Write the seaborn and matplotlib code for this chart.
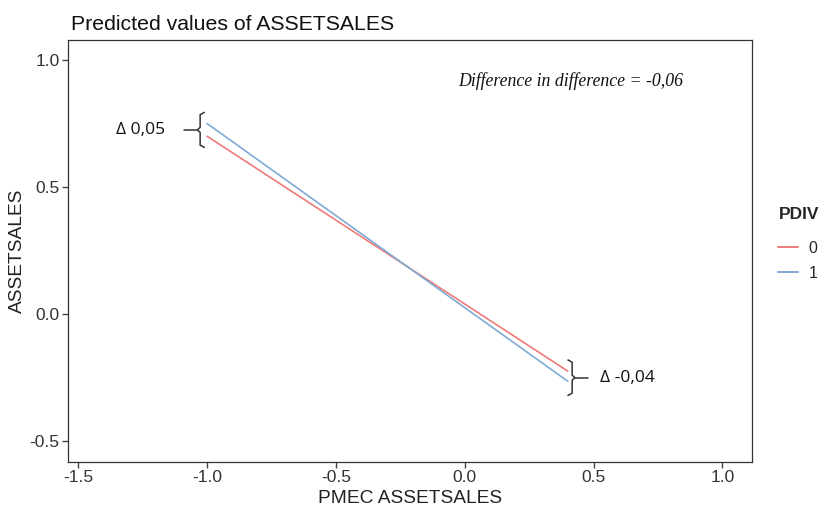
import matplotlib
matplotlib.use("Agg")
import matplotlib.pyplot as plt
import seaborn as sns
import pandas as pd
import numpy as np
from matplotlib.lines import Line2D

# data
pmec = [-1.0, 0.4]
pred_0 = [0.70, -0.225]
pred_1 = [0.75, -0.265]
groups = ["0", "1"]
x_ticks = [-1.5, -1.0, -0.5, 0.0, 0.5, 1.0]
y_ticks = [-0.5, 0.0, 0.5, 1.0]
diff_left = "Δ 0,05"
diff_right = "Δ -0,04"
did_text = "Difference in difference = -0,06"

df = pd.DataFrame({
    "PMEC ASSETSALES": pmec + pmec,
    "ASSETSALES": pred_0 + pred_1,
    "PDIV": [groups[0]] * 2 + [groups[1]] * 2,
})

sns.set_theme(style="white")
plt.rcParams["font.family"] = ["Liberation Sans", "DejaVu Sans"]

fig = plt.figure(figsize=(8.22, 5.15), dpi=100)
ax = fig.add_axes([0.0827, 0.1029, 0.8321, 0.8194])
palette = {"0": "#F07A78", "1": "#7FAAD6"}
sns.lineplot(data=df, x="PMEC ASSETSALES", y="ASSETSALES", hue="PDIV",
             palette=palette, ax=ax, linewidth=1.2, legend=False)

ax.set_xlim(-1.54, 1.115)
ax.set_ylim(-0.583, 1.079)
ax.set_xticks(x_ticks)
ax.set_xticklabels([f"{v:.1f}" for v in x_ticks])
ax.set_yticks(y_ticks)
ax.set_yticklabels([f"{v:.1f}" for v in y_ticks])
ax.tick_params(axis="both", which="both", length=4, width=1, color="#444444",
               labelsize=12.5, labelcolor="#333333", pad=2, bottom=True, left=True)
for s in ax.spines.values():
    s.set_color("#333333")
    s.set_linewidth(0.9)
ax.set_xlabel("PMEC ASSETSALES", fontsize=13.8, color="#222222", labelpad=3)
ax.set_ylabel("ASSETSALES", fontsize=13.8, color="#222222", labelpad=3)
ax.set_title("Predicted values of ASSETSALES", fontsize=15.3, loc="left",
             x=0.005, pad=7, color="#111111")

# braces
def brace(ax, x, lo, hi, side, tick_len):
    mid = (lo + hi) / 2
    d = 0.018 * side  # hook direction (opens towards lines)
    c = 0.010
    xs = [x + d, x, x, x - d * 0.6, x, x, x + d]
    ys = [hi, hi - c, mid + c, mid, mid - c, lo + c, lo]
    ax.plot(xs, ys, color="#333333", lw=1.1, solid_capstyle="butt")
    ax.plot([x - d * 0.6, x - d * 0.6 - tick_len * side], [mid, mid],
            color="#333333", lw=1.1)
    return mid

l0, l1 = pred_0[0], pred_1[0]
r0, r1 = pred_0[1], pred_1[1]
pad = 0.045
mid_l = brace(ax, pmec[0] - 0.027, min(l0, l1) - pad, max(l0, l1) + pad, 1, 0.05)
mid_r = brace(ax, pmec[1] + 0.017, min(r0, r1) - pad - 0.012, max(r0, r1) + pad + 0.0, -1, 0.05)

ax.text(-1.162, mid_l, diff_left, ha="right", va="center", fontsize=12.5,
        family=["Open Sans", "DejaVu Sans"], color="#111111")
ax.text(0.525, mid_r, diff_right, ha="left", va="center", fontsize=12.5,
        family=["Open Sans", "DejaVu Sans"], color="#111111")
ax.text(0.41, 0.917, did_text, ha="center", va="center", fontsize=12.8,
        style="italic", family=["Liberation Serif", "DejaVu Serif"], color="#111111")

# legend
handles = [Line2D([0], [0], color=palette[g], lw=1.4) for g in groups]
leg = fig.legend(handles, groups, title="PDIV", loc="center left",
                 bbox_to_anchor=(0.947, 0.527), frameon=False, fontsize=11.5,
                 title_fontsize=12.5, handlelength=1.2, handletextpad=0.7,
                 labelspacing=0.6, borderaxespad=0, borderpad=0)
leg.get_title().set_fontweight("bold")
leg._legend_box.align = "left"
leg._legend_box.sep = 14

fig.savefig("out.png", dpi=100, facecolor="white")
